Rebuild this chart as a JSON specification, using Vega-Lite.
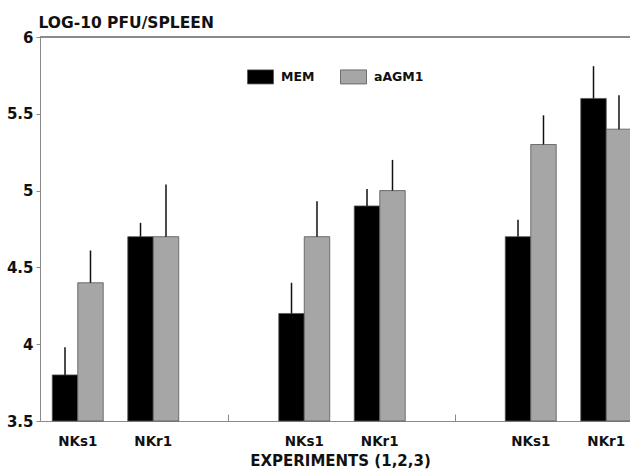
{
  "$schema": "https://vega.github.io/schema/vega-lite/v6.json",
  "width": 590,
  "height": 384,
  "autosize": {"type": "none"},
  "padding": {"left": 40, "top": 37, "right": 0, "bottom": 48},
  "background": "white",
  "view": {"stroke": null},
  "config": {
    "font": "DejaVu Sans",
    "axis": {"domainColor": "#8a8a8a", "tickColor": "#8a8a8a", "grid": false, "labelColor": "#111", "titleColor": "#111"},
    "legend": {"labelFont": "DejaVu Sans"}
  },
  "data": {
    "values": [
      {"slot": "e1s", "group": "MEM", "value": 3.8, "upper": 3.98},
      {"slot": "e1s", "group": "aAGM1", "value": 4.4, "upper": 4.61},
      {"slot": "e1r", "group": "MEM", "value": 4.7, "upper": 4.79},
      {"slot": "e1r", "group": "aAGM1", "value": 4.7, "upper": 5.04},
      {"slot": "e2s", "group": "MEM", "value": 4.2, "upper": 4.4},
      {"slot": "e2s", "group": "aAGM1", "value": 4.7, "upper": 4.93},
      {"slot": "e2r", "group": "MEM", "value": 4.9, "upper": 5.01},
      {"slot": "e2r", "group": "aAGM1", "value": 5.0, "upper": 5.2},
      {"slot": "e3s", "group": "MEM", "value": 4.7, "upper": 4.81},
      {"slot": "e3s", "group": "aAGM1", "value": 5.3, "upper": 5.49},
      {"slot": "e3r", "group": "MEM", "value": 5.6, "upper": 5.81},
      {"slot": "e3r", "group": "aAGM1", "value": 5.4, "upper": 5.62}
    ]
  },
  "encoding": {
    "x": {
      "field": "slot",
      "type": "nominal",
      "sort": null,
      "scale": {"domain": ["e1s", "e1r", "g1", "e2s", "e2r", "g2", "e3s", "e3r"], "range": [0, 604], "paddingInner": 0.325, "paddingOuter": 0.1625},
      "axis": {
        "title": "EXPERIMENTS (1,2,3)",
        "titleFontSize": 15,
        "titleFontWeight": "bold",
        "titleX": 300,
        "titleY": 44,
        "titleBaseline": "alphabetic",
        "labelExpr": "indexof(datum.value, 's') > 0 ? 'NKs1' : (indexof(datum.value, 'r') > 0 ? 'NKr1' : '')",
        "labelFontSize": 13.5,
        "labelFontWeight": "bold",
        "labelPadding": 20,
        "labelAngle": 0,
        "tickSize": -7,
        "tickOpacity": {"condition": {"test": "indexof(datum.value, 'g') == 0", "value": 1}, "value": 0}
      }
    },
    "xOffset": {"field": "group", "type": "nominal", "sort": ["MEM", "aAGM1"], "scale": {"paddingInner": 0, "paddingOuter": 0}}
  },
  "layer": [
    {
      "mark": {"type": "rule", "color": "#8a8a8a", "strokeWidth": 1},
      "encoding": {"y": {"datum": 6}, "x": null, "xOffset": null}
    },
    {
      "mark": {"type": "bar", "stroke": "#555", "strokeWidth": 0.8},
      "encoding": {
        "y": {
          "field": "value",
          "type": "quantitative",
          "scale": {"domain": [3.5, 6], "zero": false, "nice": false},
          "axis": {
            "title": "LOG-10 PFU/SPLEEN",
            "titleAngle": 0,
            "titleAlign": "left",
            "titleBaseline": "alphabetic",
            "titleX": -2,
            "titleY": -10,
            "titleFontSize": 15.5,
            "titleFontWeight": "bold",
            "values": [3.5, 4, 4.5, 5, 5.5, 6],
            "labelExpr": "datum.value",
            "labelFontSize": 15,
            "labelFontWeight": "bold",
            "labelPadding": 3,
            "tickSize": 4
          }
        },
        "y2": {"datum": 3.5},
        "color": {
          "field": "group",
          "type": "nominal",
          "sort": ["MEM", "aAGM1"],
          "scale": {"domain": ["MEM", "aAGM1"], "range": ["#000000", "#a6a6a6"]},
          "legend": {
            "title": null,
            "orient": "none",
            "direction": "horizontal",
            "legendX": 207,
            "legendY": 26,
            "symbolType": "M-1,-0.54H1V0.54H-1Z",
            "symbolSize": 676,
            "symbolStrokeColor": "#555",
            "symbolStrokeWidth": 0.8,
            "symbolOpacity": 1,
            "labelFontSize": 12.5,
            "labelFontWeight": "bold",
            "labelColor": "#111",
            "labelOffset": 7,
            "columnPadding": 23
          }
        }
      }
    },
    {
      "mark": {"type": "rule", "color": "#111", "strokeWidth": 1.5},
      "encoding": {
        "y": {"field": "value", "type": "quantitative"},
        "y2": {"field": "upper"}
      }
    }
  ]
}
